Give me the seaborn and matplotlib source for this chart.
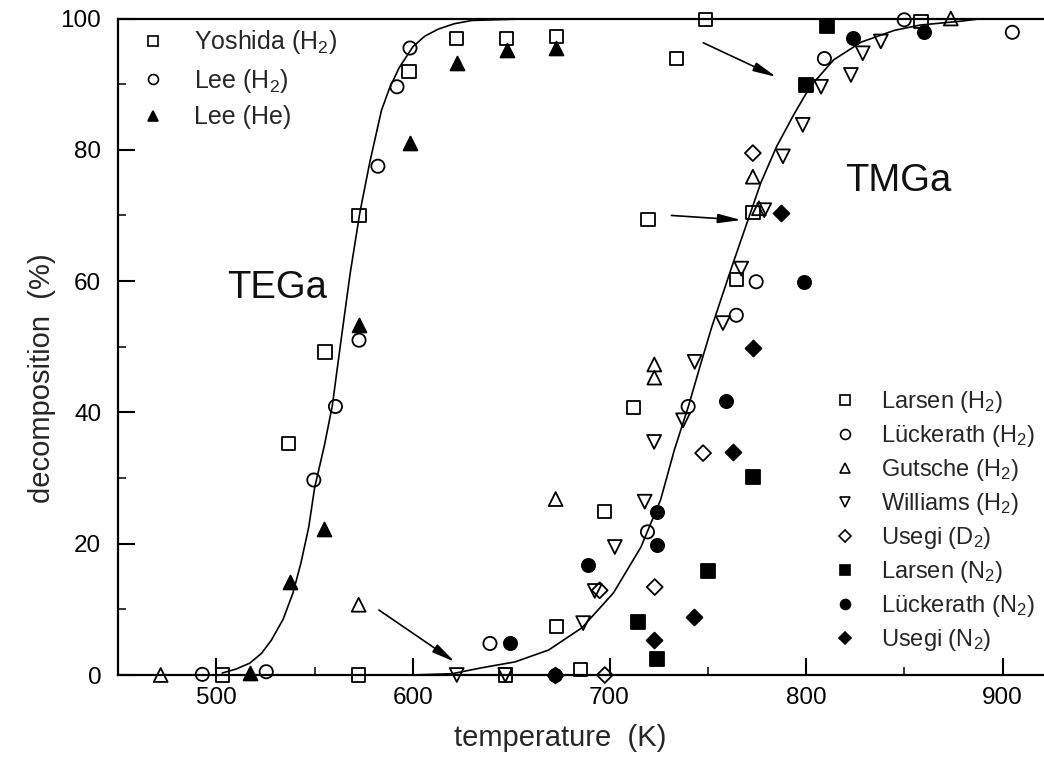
import numpy as np
import pandas as pd
import matplotlib
matplotlib.use("Agg")
import matplotlib.pyplot as plt
from matplotlib.lines import Line2D
import seaborn as sns

# ---------------- data ----------------
# TEGa
yoshida_h2_x = [503, 536.9, 555.3, 572.6, 572.4, 598, 622.3, 647.7, 673]
yoshida_h2_y = [0, 35.3, 49.2, 70, 0, 91.9, 97, 97, 97.3]
lee_h2_x = [492.9, 525.4, 549.6, 560.6, 572.6, 582.2, 591.9, 598.5]
lee_h2_y = [0.1, 0.5, 29.7, 40.9, 51, 77.5, 89.6, 95.5]
lee_he_x = [517, 537.7, 554.7, 572.6, 598.5, 622.3, 647.7, 673]
lee_he_y = [0.35, 14.2, 22.3, 53.3, 81, 93.2, 95.2, 95.5]

# TMGa
larsen_h2_x = [646.9, 673.1, 685.4, 697.6, 712, 719.6, 734, 748.7, 764.5, 773, 858.4]
larsen_h2_y = [0, 7.4, 0.8, 24.9, 40.8, 69.4, 93.9, 99.8, 60.2, 70.5, 99.5]
luck_h2_x = [639.2, 719.3, 740, 764.5, 774.6, 809.3, 849.9, 904.9]
luck_h2_y = [4.8, 21.8, 40.9, 54.8, 59.9, 93.9, 99.8, 97.9]
gutsche_h2_x = [471.7, 572.4, 672.6, 722.8, 722.8, 772.9, 776, 873.6]
gutsche_h2_y = [0, 10.7, 26.8, 47.3, 45.3, 75.9, 71.1, 100]
williams_h2_x = [622.3, 647, 686.6, 692.5, 702.7, 717.9, 722.7, 737.4, 743.3, 757.7,
                 767, 778.7, 788.2, 798.3, 807.6, 822.8, 828.8, 838]
williams_h2_y = [0, 0, 7.9, 12.8, 19.5, 26.4, 35.5, 38.8, 47.7, 53.6,
                 61.9, 70.8, 79, 83.8, 89.6, 91.4, 94.7, 96.5]
usegi_d2_x = [697.6, 695, 723, 747.6, 772.9]
usegi_d2_y = [0, 12.9, 13.4, 33.8, 79.5]
larsen_n2_x = [714.6, 724.4, 750.1, 772.9, 800, 810.7]
larsen_n2_y = [8.1, 2.5, 15.8, 30.2, 89.9, 98.8]
luck_n2_x = [649.4, 672.2, 689.2, 724.4, 724.4, 759.4, 799.1, 823.7, 860]
luck_n2_y = [4.8, 0, 16.8, 19.8, 24.9, 41.8, 59.9, 97, 97.9]
usegi_n2_x = [672.2, 722.7, 743, 762.8, 772.9, 787.3]
usegi_n2_y = [0, 5.4, 8.8, 33.9, 49.8, 70.3]

# fitted curves
tega_curve_x = [503, 510, 517, 523, 528, 534, 539, 543, 547, 550, 555, 559, 563, 568,
                573, 578, 584, 588, 593, 600, 606, 613, 621, 630, 664]
tega_curve_y = [0.3, 0.9, 1.8, 3.3, 5.3, 8.5, 12.5, 17, 22.5, 28.5, 35, 41, 50, 61,
                70.4, 78, 86, 89.3, 92.5, 95.7, 97.3, 98.4, 99.2, 99.7, 100]
tmga_curve_x = [600, 620, 635, 652, 669, 686, 702, 716, 726, 733, 740, 747, 752, 762, 771,
                777, 785, 794, 802, 814, 828, 845, 858, 879, 890, 921]
tmga_curve_y = [0, 0.2, 1.1, 2, 3.8, 7.2, 12.5, 19.5, 26.7, 34.3, 40.8, 48, 53, 62, 69.8,
                75, 80.5, 85.5, 89.6, 93.7, 96.4, 98.2, 99, 99.6, 100, 100]

# arrows: (start_x, start_y, end_x, end_y)
arrow_starts_x = [747.7, 731.5, 582.7]
arrow_starts_y = [96.3, 70.0, 9.9]
arrow_ends_x = [784.8, 767.0, 621.3]
arrow_ends_y = [91.1, 69.3, 2.0]

# labels
x_ticks = [500, 600, 700, 800, 900]
y_ticks = [0, 20, 40, 60, 80, 100]
x_label = "temperature  (K)"
y_label = "decomposition  (%)"

# ---------------- styling ----------------
sns.set_theme(style="ticks")
plt.rcParams["font.family"] = ["Liberation Sans", "DejaVu Sans"]
plt.rcParams["mathtext.fontset"] = "custom"
plt.rcParams["mathtext.rm"] = "Liberation Sans"
plt.rcParams["mathtext.it"] = "Liberation Sans"

fig = plt.figure(figsize=(10.44, 7.59), dpi=100)
ax = fig.add_axes([118 / 1044, 1 - 675 / 759, 1 - 118 / 1044, (675 - 18.5) / 759])

# curves
sns.lineplot(x=tega_curve_x, y=tega_curve_y, color="black", lw=1.2, ax=ax,
             sort=False, estimator=None)
sns.lineplot(x=tmga_curve_x, y=tmga_curve_y, color="black", lw=1.2, ax=ax,
             sort=False, estimator=None)

MS = 9.5  # marker size in points (side/diameter)
series = [
    # x, y, marker, filled, label, group, size factor
    (yoshida_h2_x, yoshida_h2_y, "s", False, "Yoshida (H$_2$)", 1, 1.0),
    (lee_h2_x, lee_h2_y, "o", False, "Lee (H$_2$)", 1, 1.0),
    (lee_he_x, lee_he_y, "^", True, "Lee (He)", 1, 1.05),
    (larsen_h2_x, larsen_h2_y, "s", False, "Larsen (H$_2$)", 2, 1.0),
    (luck_h2_x, luck_h2_y, "o", False, "Lückerath (H$_2$)", 2, 1.0),
    (gutsche_h2_x, gutsche_h2_y, "^", False, "Gutsche (H$_2$)", 2, 1.05),
    (williams_h2_x, williams_h2_y, "v", False, "Williams (H$_2$)", 2, 1.05),
    (usegi_d2_x, usegi_d2_y, "D", False, "Usegi (D$_2$)", 2, 0.85),
    (larsen_n2_x, larsen_n2_y, "s", True, "Larsen (N$_2$)", 2, 1.0),
    (luck_n2_x, luck_n2_y, "o", True, "Lückerath (N$_2$)", 2, 1.0),
    (usegi_n2_x, usegi_n2_y, "D", True, "Usegi (N$_2$)", 2, 0.85),
]

handles1, handles2 = [], []
for xs, ys, mk, filled, lab, grp, sf in series:
    ms = MS * sf
    sns.scatterplot(x=xs, y=ys, marker=mk, s=ms ** 2, ax=ax,
                    facecolor="black" if filled else "none",
                    edgecolor="black", linewidth=1.3, clip_on=False, zorder=5,
                    legend=False)
    h = Line2D([], [], linestyle="none", marker=mk, markersize=ms * 0.75,
               markerfacecolor="black" if filled else "none",
               markeredgecolor="black", markeredgewidth=1.2, label=lab)
    (handles1 if grp == 1 else handles2).append(h)

# arrows
for sx, sy, ex, ey in zip(arrow_starts_x, arrow_starts_y, arrow_ends_x, arrow_ends_y):
    ax.annotate("", xy=(ex, ey), xytext=(sx, sy),
                arrowprops=dict(arrowstyle="-|>,head_length=1.0,head_width=0.2",
                                color="black", lw=1.2,
                                mutation_scale=14, shrinkA=0, shrinkB=0))

# compound labels
ax.text(530.8, 59, "TEGa", fontsize=27.5, ha="center", va="center", color="#111111")
ax.text(846.7, 75.2, "TMGa", fontsize=27.5, ha="center", va="center", color="#111111")

# axes
ax.set_xlim(450, 921)
ax.set_ylim(0, 100)
ax.set_xticks(x_ticks)
ax.set_yticks(y_ticks)
ax.set_xticks(np.arange(550, 921, 100), minor=True)
ax.set_yticks(np.arange(10, 100, 20), minor=True)
ax.tick_params(which="major", direction="in", length=12, width=1.5, labelsize=17.5,
               colors="black", pad=9)
ax.tick_params(which="minor", direction="in", length=6, width=1.3)
ax.tick_params(axis="y", which="major", pad=12)
for side in ["left", "bottom", "top"]:
    ax.spines[side].set_linewidth(1.6)
    ax.spines[side].set_color("black")
ax.spines["right"].set_visible(False)
ax.set_xlabel(x_label, fontsize=21)
ax.set_ylabel(y_label, fontsize=21)
ax.xaxis.set_label_coords((560 - 118) / 926, (675 - 724) / 656.5)
ax.yaxis.set_label_coords((56 - 118) / 926, (675 - 378) / 656.5)

leg1 = ax.legend(handles=handles1, loc="upper left", bbox_to_anchor=(0.024, 0.985),
                 frameon=False, fontsize=18, handlelength=1.0, handletextpad=1.15,
                 labelspacing=0.42, borderpad=0, borderaxespad=0)
ax.add_artist(leg1)
ax.legend(handles=handles2, loc="upper left", bbox_to_anchor=(0.772, 0.436),
          frameon=False, fontsize=17, handlelength=1.0, handletextpad=1.05,
          labelspacing=0.34, borderpad=0, borderaxespad=0)

fig.savefig("out.png", dpi=100)
